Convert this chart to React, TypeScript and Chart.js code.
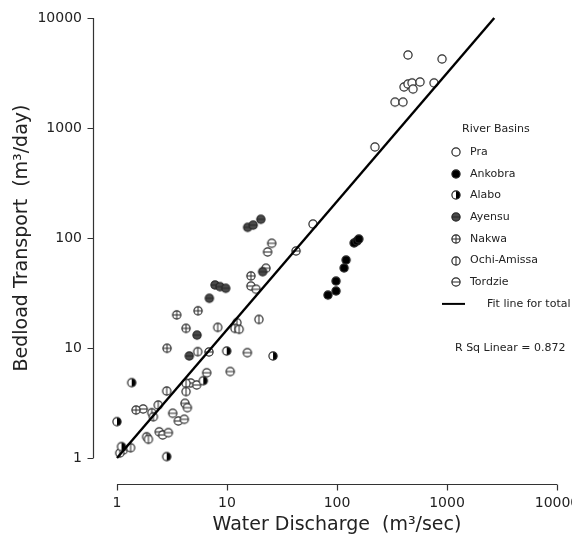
import React, { useEffect, useRef } from 'react';
import { Chart, registerables } from 'chart.js';

Chart.register(...registerables);

const FONT = '"DejaVu Sans", Verdana, sans-serif';

// ---- text ----
const axisTicks = [1, 10, 100, 1000, 10000];
const xTitle = 'Water Discharge  (m³/sec)';
const yTitle = 'Bedload Transport  (m³/day)';
const legendTitle = 'River Basins';
const fitLabel = 'Fit line for total';
const rSqText = 'R Sq Linear = 0.872';

// ---- data (Q = water discharge m3/sec, B = bedload transport m3/day) ----
const praQ = [442, 901, 407, 442, 481, 491, 569, 762, 337, 398, 221, 60.5];
const praB = [4610, 4240, 2360, 2510, 2570, 2260, 2620, 2570, 1720, 1720, 672, 134];

const ankobraQ = [82.8, 98, 98, 116, 121, 143, 152, 158];
const ankobraB = [30.3, 33, 40.6, 53.4, 63.1, 90.1, 93.9, 98];

const alaboQ = [1.36, 1.0, 2.83, 6.09, 9.94, 26.2, 1.1];
const alaboB = [4.84, 2.14, 1.03, 5.04, 9.39, 8.46, 1.27];

const ayensuQ = [15.4, 17.3, 20.3, 21.1, 7.78, 8.63, 9.73, 6.91, 5.34, 4.54];
const ayensuB = [125, 131, 148, 49.4, 37.4, 36.1, 34.9, 28.3, 13.1, 8.46];

const nakwaQ = [16.5, 3.49, 5.45, 4.24, 2.85, 1.49];
const nakwaB = [45.2, 20, 21.8, 15.1, 9.94, 2.73];

const ochiQ = [12.3, 11.8, 12.9, 19.5, 8.23, 5.42, 2.83, 4.24, 4.24, 2.37, 2.07, 2.14, 1.86, 1.93, 1.33, 1.06];
const ochiB = [17.0, 15.1, 14.8, 18.2, 15.4, 9.26, 4.06, 4.78, 4.02, 3.03, 2.58, 2.37, 1.56, 1.48, 1.24, 1.11];

const tordzieQ = [25.5, 23.4, 42.4, 22.6, 16.5, 18.4, 6.86, 15.3, 10.7, 6.54, 4.68, 5.3, 1.73, 4.15, 4.36, 3.21, 3.61, 4.09, 2.42, 2.6, 2.93, 1.14];
const tordzieB = [89.5, 74.6, 76.2, 53.1, 36.6, 34.2, 9.2, 9.07, 6.11, 5.95, 4.81, 4.61, 2.79, 3.14, 2.87, 2.55, 2.17, 2.25, 1.73, 1.62, 1.7, 1.18];

const fitQ = [1, 2690];
const fitB = [1, 10000];

const basins = [
  { name: 'Pra', q: praQ, b: praB, marker: 'open' },
  { name: 'Ankobra', q: ankobraQ, b: ankobraB, marker: 'filled' },
  { name: 'Alabo', q: alaboQ, b: alaboB, marker: 'half' },
  { name: 'Ayensu', q: ayensuQ, b: ayensuB, marker: 'darkH' },
  { name: 'Nakwa', q: nakwaQ, b: nakwaB, marker: 'cross' },
  { name: 'Ochi-Amissa', q: ochiQ, b: ochiB, marker: 'vline' },
  { name: 'Tordzie', q: tordzieQ, b: tordzieB, marker: 'hline' },
];

function zip(q: number[], b: number[]) {
  return q.map((v, i) => ({ x: v, y: b[i] }));
}

function makeMarker(kind: string): HTMLCanvasElement {
  const c = document.createElement('canvas');
  const s = 12;
  c.width = s;
  c.height = s;
  const g = c.getContext('2d') as CanvasRenderingContext2D;
  const cx = 6, cy = 6, r = 4.1;
  g.lineWidth = 1.2;
  g.strokeStyle = '#262626';
  g.beginPath();
  g.arc(cx, cy, r, 0, Math.PI * 2);
  g.fillStyle = kind === 'filled' ? '#000' : kind === 'darkH' ? '#4a4a4a' : '#fff';
  g.fill();
  if (kind === 'half') {
    g.beginPath();
    g.moveTo(cx, cy - r);
    g.arc(cx, cy, r, -Math.PI / 2, Math.PI / 2);
    g.closePath();
    g.fillStyle = '#000';
    g.fill();
  }
  g.lineWidth = 1;
  if (kind === 'hline' || kind === 'darkH' || kind === 'cross') {
    g.beginPath();
    g.moveTo(cx - r, cy);
    g.lineTo(cx + r, cy);
    g.stroke();
  }
  if (kind === 'vline' || kind === 'cross') {
    g.beginPath();
    g.moveTo(cx, cy - r);
    g.lineTo(cx, cy + r);
    g.stroke();
  }
  g.lineWidth = 1.2;
  g.beginPath();
  g.arc(cx, cy, r, 0, Math.PI * 2);
  g.stroke();
  return c;
}

const detachedAxes = {
  id: 'detachedAxes',
  afterDraw(chart: any) {
    const { ctx } = chart;
    const x = chart.scales.x;
    const y = chart.scales.y;
    const ax = Math.round(x.left - 24) + 0.5;
    const ay = Math.round(y.bottom + 26) + 0.5;
    ctx.save();
    ctx.strokeStyle = '#333';
    ctx.lineWidth = 1.2;
    const yTop = y.getPixelForValue(axisTicks[axisTicks.length - 1]);
    const yBot = y.getPixelForValue(axisTicks[0]);
    ctx.beginPath();
    ctx.moveTo(ax, yTop);
    ctx.lineTo(ax, yBot);
    axisTicks.forEach((v) => {
      const p = Math.round(y.getPixelForValue(v)) + 0.5;
      ctx.moveTo(ax - 6, p);
      ctx.lineTo(ax, p);
    });
    ctx.stroke();
    const xL = x.getPixelForValue(axisTicks[0]);
    const xR = x.getPixelForValue(axisTicks[axisTicks.length - 1]);
    ctx.beginPath();
    ctx.moveTo(xL, ay);
    ctx.lineTo(xR, ay);
    axisTicks.forEach((v) => {
      const p = Math.round(x.getPixelForValue(v)) + 0.5;
      ctx.moveTo(p, ay);
      ctx.lineTo(p, ay + 6);
    });
    ctx.stroke();
    ctx.restore();
  },
};

const basinLegend = {
  id: 'basinLegend',
  afterDraw(chart: any) {
    const ctx = chart.ctx;
    ctx.save();
    ctx.font = `11px ${FONT}`;
    ctx.fillStyle = '#222';
    ctx.textBaseline = 'middle';
    ctx.textAlign = 'left';
    const mx = 456, y0 = 152, step = 21.7;
    ctx.fillText(legendTitle, 462, 129);
    chart.data.datasets.forEach((ds: any, i: number) => {
      if (ds.type === 'line') return;
      const yy = y0 + i * step;
      const img = ds.pointStyle as HTMLCanvasElement;
      ctx.drawImage(img, mx - img.width / 2, Math.round(yy - img.height / 2));
      ctx.fillText(ds.label, 470, yy);
    });
    const fy = y0 + 7 * step;
    ctx.strokeStyle = '#000';
    ctx.lineWidth = 2;
    ctx.beginPath();
    ctx.moveTo(442, fy);
    ctx.lineTo(465, fy);
    ctx.stroke();
    ctx.fillText(fitLabel, 487, fy);
    ctx.fillText(rSqText, 455, 348);
    ctx.restore();
  },
};

export default function App() {
  const ref = useRef<HTMLCanvasElement>(null);
  useEffect(() => {
    if (!ref.current) return;
    const datasets: any[] = basins.map((b) => ({
      type: 'scatter',
      label: b.name,
      data: zip(b.q, b.b),
      pointStyle: makeMarker(b.marker),
      pointRadius: 5,
      clip: false,
      order: 1,
    }));
    datasets.push({
      type: 'line',
      label: fitLabel,
      data: zip(fitQ, fitB),
      borderColor: '#000',
      borderWidth: 2.4,
      pointRadius: 0,
      fill: false,
      clip: false,
      order: 0,
    });
    const tickFont = { family: FONT, size: 14 };
    const chart = new Chart(ref.current, {
      type: 'scatter',
      data: { datasets },
      options: {
        animation: false,
        responsive: false,
        events: [],
        layout: { padding: { top: 18, right: 15, bottom: 0, left: 0 } },
        plugins: { legend: { display: false }, tooltip: { enabled: false } },
        scales: {
          x: {
            type: 'logarithmic',
            min: 1,
            max: 10000,
            afterBuildTicks: (s: any) => {
              s.ticks = axisTicks.map((v) => ({ value: v }));
            },
            ticks: {
              callback: (v: any) => String(v),
              font: tickFont,
              color: '#222',
              padding: 37,
              maxRotation: 0,
              autoSkip: false,
            },
            grid: { display: false, drawTicks: false },
            border: { display: false },
            title: {
              display: true,
              text: xTitle,
              font: { family: FONT, size: 19 },
              color: '#222',
              padding: { top: 4, bottom: 3 },
            },
            afterFit: (s: any) => {
              s.height = 81;
              s.paddingLeft = 0;
              s.paddingRight = 0;
            },
          },
          y: {
            type: 'logarithmic',
            min: 1,
            max: 10000,
            afterBuildTicks: (s: any) => {
              s.ticks = axisTicks.map((v) => ({ value: v }));
            },
            ticks: {
              callback: (v: any) => String(v),
              font: tickFont,
              color: '#222',
              padding: 35,
              autoSkip: false,
            },
            grid: { display: false, drawTicks: false },
            border: { display: false },
            title: {
              display: true,
              text: yTitle,
              font: { family: FONT, size: 19 },
              color: '#222',
              padding: { top: 11, bottom: 0 },
            },
            afterFit: (s: any) => {
              s.width = 117;
              s.paddingTop = 0;
              s.paddingBottom = 0;
            },
          },
        },
      },
      plugins: [detachedAxes, basinLegend],
    } as any);
    return () => chart.destroy();
  }, []);
  return (
    <div style={{ position: 'fixed', left: 0, top: 0, width: 572, height: 539, background: '#fff' }}>
      <canvas ref={ref} width={572} height={539} style={{ display: 'block' }} />
    </div>
  );
}
